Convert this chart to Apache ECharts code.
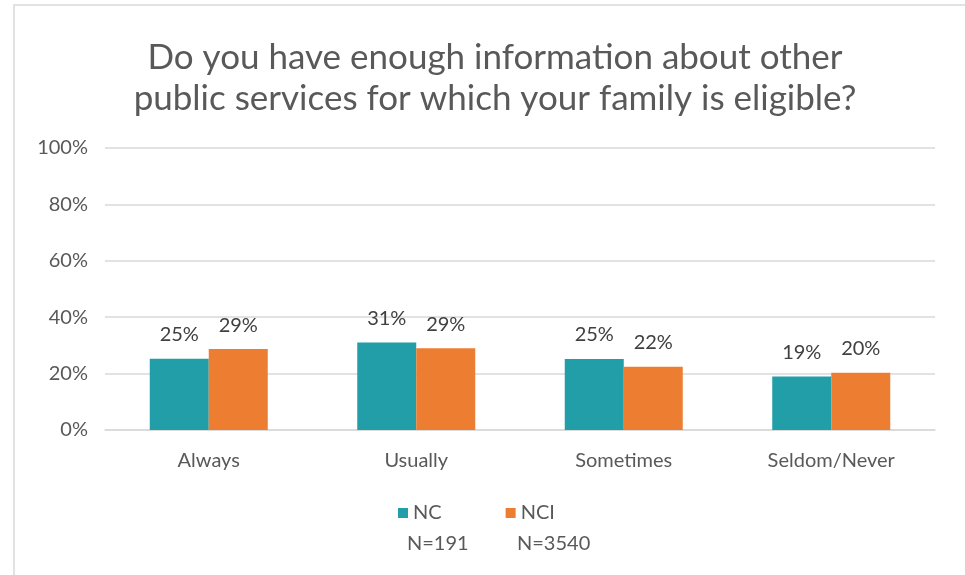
<!DOCTYPE html>
<html><head><meta charset="utf-8">
<script src="https://cdn.jsdelivr.net/npm/echarts@6/dist/echarts.min.js"></script>
<style>html,body{margin:0;padding:0;background:#fff}#c{width:965px;height:575px}</style>
</head><body><div id="c"></div>
<script>
const titleText = "Do you have enough information about other\npublic services for which your family is eligible?";
const categories = ["Always", "Usually", "Sometimes", "Seldom/Never"];
const seriesNames = ["NC", "NCI"];
const sampleSizes = ["N=191", "N=3540"];
const ncValues = [25.3, 31.0, 25.2, 19.0];
const nciValues = [28.7, 29.0, 22.4, 20.3];
const yTicks = [0, 20, 40, 60, 80, 100];

const FONT = "Lato, 'Open Sans', sans-serif";
const chart = echarts.init(document.getElementById('c'));
const lbl = {show: true, position: 'top', distance: 14, fontSize: 20, fontFamily: FONT, color: '#404040',
  formatter: p => Math.round(p.value) + '%'};
chart.setOption({
  animation: false,
  title: {text: titleText, left: 490, textAlign: 'center', top: 32,
    textStyle: {fontFamily: FONT, fontSize: 35, fontWeight: 'normal', color: '#595959', lineHeight: 41}},
  grid: {left: 105, right: 30, top: 148, bottom: 145},
  legend: {data: seriesNames, left: 393, top: 498, itemWidth: 10, itemHeight: 10, itemGap: 64, icon: 'rect',
    textStyle: {fontFamily: FONT, fontSize: 20, color: '#595959'}},
  xAxis: {type: 'category', data: categories,
    axisLine: {lineStyle: {color: '#d9d9d9', width: 1.5}}, axisTick: {show: false},
    axisLabel: {fontFamily: FONT, fontSize: 20, color: '#595959', margin: 21}},
  yAxis: {type: 'value', min: yTicks[0], max: yTicks[yTicks.length-1], interval: 20,
    axisLine: {show: false}, axisTick: {show: false},
    splitLine: {lineStyle: {color: '#d9d9d9', width: 1.5}},
    axisLabel: {fontFamily: FONT, fontSize: 20, color: '#595959', margin: 17, formatter: v => v + '%'}},
  series: [
    {name: seriesNames[0], type: 'bar', data: ncValues, barWidth: 59, barGap: '0%',
     itemStyle: {color: '#219EA8'}, label: lbl},
    {name: seriesNames[1], type: 'bar', data: nciValues, barWidth: 59,
     itemStyle: {color: '#ED7D31'}, label: lbl}
  ],
  graphic: [
    {type: 'rect', shape: {x: 14, y: 5, width: 960, height: 600}, silent: true,
     style: {fill: 'none', stroke: '#d9d9d9', lineWidth: 1.5}},
    {type: 'text', x: 407, y: 544, style: {text: sampleSizes[0], font: '20px ' + FONT, fill: '#595959', verticalAlign: 'middle'}},
    {type: 'text', x: 517, y: 544, style: {text: sampleSizes[1], font: '20px ' + FONT, fill: '#595959', verticalAlign: 'middle'}}
  ]
});
</script></body></html>
